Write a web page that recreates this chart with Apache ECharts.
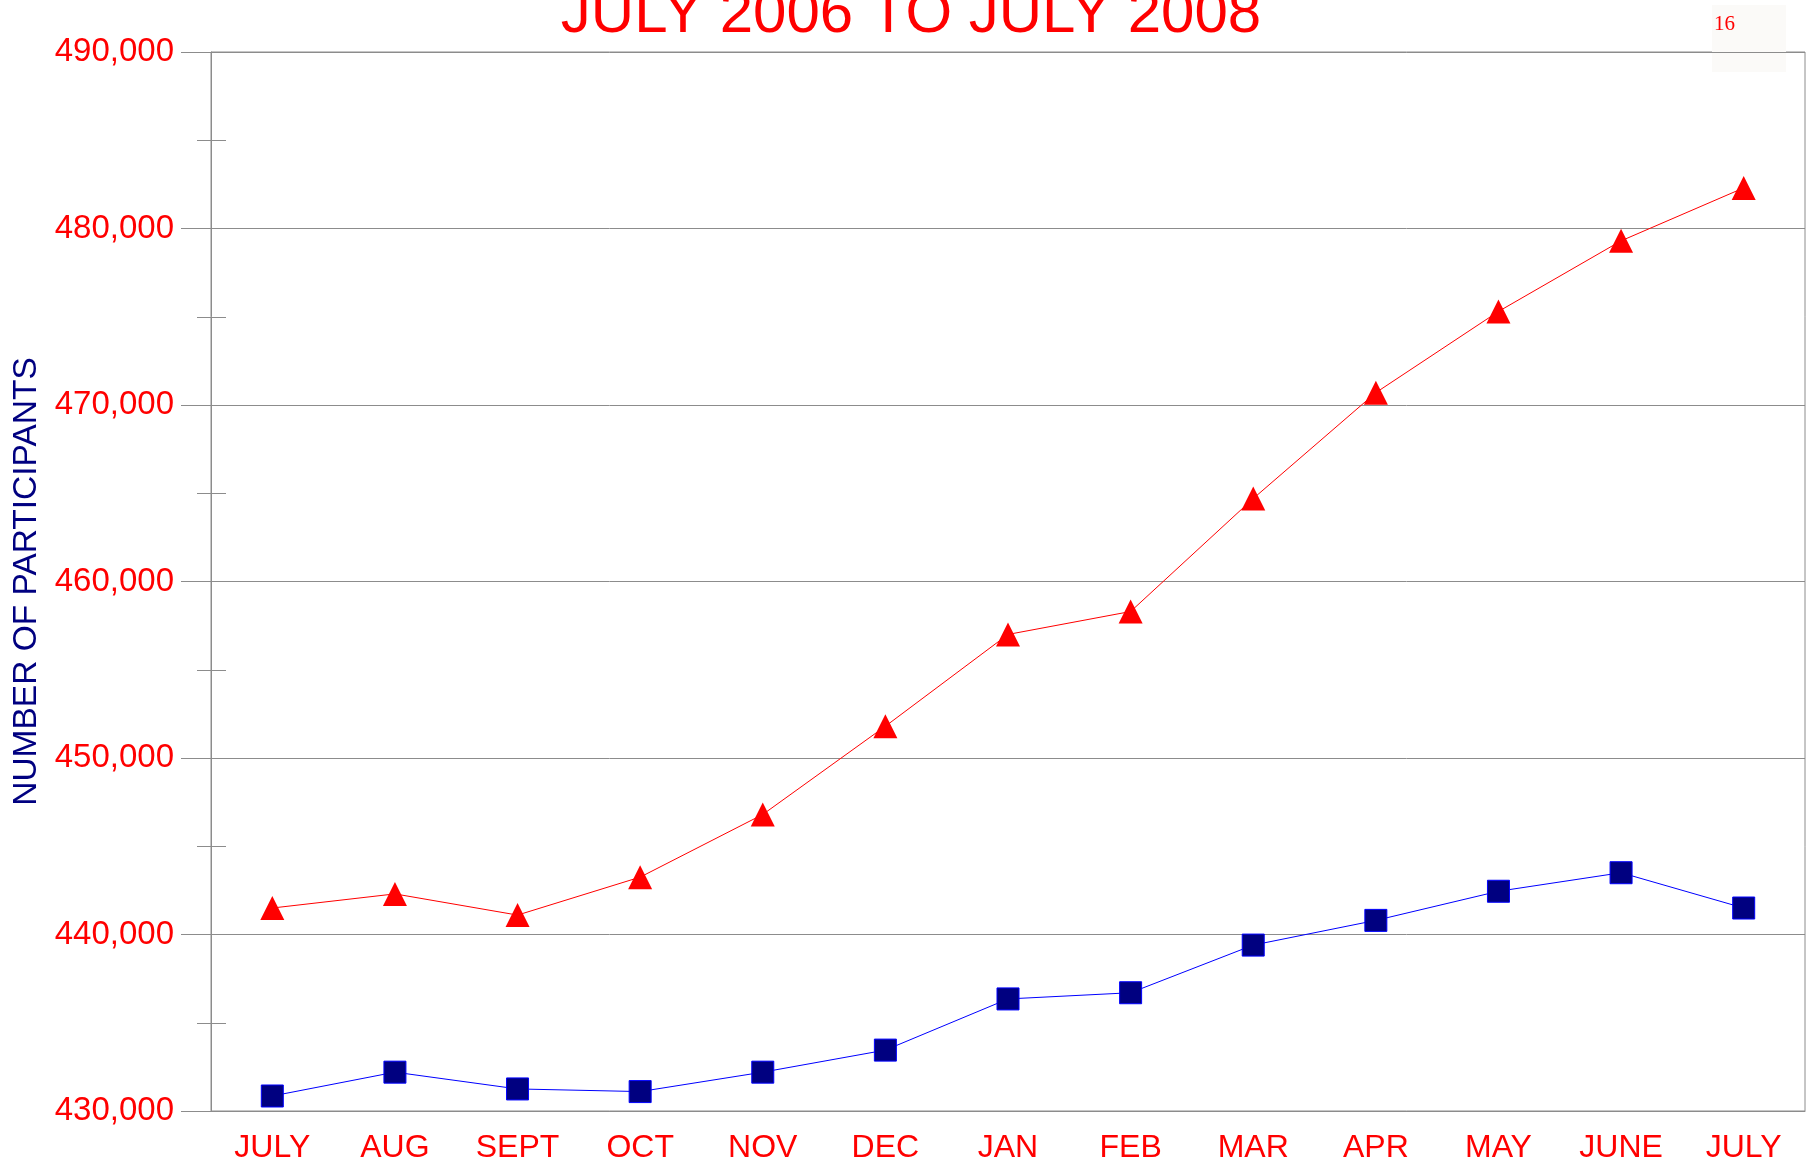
<!DOCTYPE html>
<html>
<head>
<meta charset="utf-8">
<script src="https://cdn.jsdelivr.net/npm/echarts@6/dist/echarts.min.js"></script>
<style>
  html, body { margin: 0; padding: 0; background: #fff; }
  #main { width: 1814px; height: 1163px; }
</style>
</head>
<body>
<div id="main"></div>
<script>
var months = ['JULY', 'AUG', 'SEPT', 'OCT', 'NOV', 'DEC', 'JAN', 'FEB', 'MAR', 'APR', 'MAY', 'JUNE', 'JULY'];
var redValues = [441500, 442300, 441100, 443250, 446800, 451800, 457000, 458300, 464700, 470700, 475300, 479300, 482300];
var blueValues = [430850, 432200, 431250, 431100, 432200, 433450, 436350, 436700, 439400, 440800, 442450, 443500, 441500];
var yTicks = [430000, 440000, 450000, 460000, 470000, 480000, 490000];

var chart = echarts.init(document.getElementById('main'));

var gray = '#8c8c8c';
var font = 'Liberation Sans, Arial, sans-serif';

function fmt(v) {
  return String(v).replace(/\B(?=(\d{3})+(?!\d))/g, ',');
}

var option = {
  animation: false,
  backgroundColor: '#fff',
  grid: {
    left: 211, right: 9, top: 52, bottom: 52,
    outerBoundsMode: 'none',
    containLabel: false,
    show: true,
    borderColor: gray,
    borderWidth: 1
  },
  graphic: [
    {
      type: 'text', x: 911, y: -15,
      style: { text: 'JULY 2006 TO JULY 2008', fill: '#ff0000', font: '60px ' + font, align: 'center' }
    },
    {
      type: 'rect', shape: { x: 1712, y: 5, width: 74, height: 67 },
      style: { fill: '#fbfaf8' }
    },
    {
      type: 'text', x: 1714, y: 24,
      style: { text: '16', fill: '#ff0000', font: '21px Liberation Serif, serif', verticalAlign: 'middle' }
    }
  ],
  xAxis: [
    {
      type: 'category',
      data: months,
      boundaryGap: true,
      axisLine: { lineStyle: { color: gray } },
      axisTick: { alignWithLabel: true, length: 17, lineStyle: { color: gray } },
      axisLabel: { color: '#ff0000', fontSize: 32, fontFamily: font, margin: 21, interval: 0 },
      splitLine: { show: false }
    },
    {
      type: 'category',
      data: months,
      position: 'bottom',
      boundaryGap: true,
      axisLine: { show: false },
      axisTick: { inside: true, alignWithLabel: true, length: 16, lineStyle: { color: gray } },
      axisLabel: { show: false },
      splitLine: { show: false }
    }
  ],
  yAxis: [
    {
      type: 'value',
      min: yTicks[0],
      max: yTicks[yTicks.length - 1],
      interval: 10000,
      name: 'NUMBER OF PARTICIPANTS',
      nameLocation: 'middle',
      nameGap: 165,
      nameTextStyle: { color: '#000080', fontSize: 33.5, fontFamily: font },
      axisLine: { show: true, lineStyle: { color: gray } },
      axisTick: { show: true, length: 30, lineStyle: { color: gray } },
      minorTick: { show: true, splitNumber: 2, length: 14, lineStyle: { color: gray } },
      axisLabel: { color: '#ff0000', fontSize: 33, fontFamily: font, margin: 37, formatter: fmt },
      splitLine: { show: true, lineStyle: { color: gray, width: 1 } }
    },
    {
      type: 'value',
      position: 'left',
      min: yTicks[0],
      max: yTicks[yTicks.length - 1],
      interval: 10000,
      axisLine: { show: false },
      axisTick: { show: true, inside: true, length: 24, lineStyle: { color: gray } },
      minorTick: { show: true, splitNumber: 2, length: 15, lineStyle: { color: gray } },
      axisLabel: { show: false },
      splitLine: { show: false }
    }
  ],
  series: [
    {
      type: 'line',
      data: redValues,
      symbol: 'triangle',
      symbolSize: 24,
      lineStyle: { color: '#ff0000', width: 1 },
      itemStyle: { color: '#ff0000' },
      z: 3
    },
    {
      type: 'line',
      data: blueValues,
      symbol: 'rect',
      symbolSize: 22,
      lineStyle: { color: '#0000ff', width: 1 },
      itemStyle: { color: '#000080', borderColor: '#0000ff', borderWidth: 1 },
      z: 3
    }
  ]
};

chart.setOption(option);
</script>
</body>
</html>
